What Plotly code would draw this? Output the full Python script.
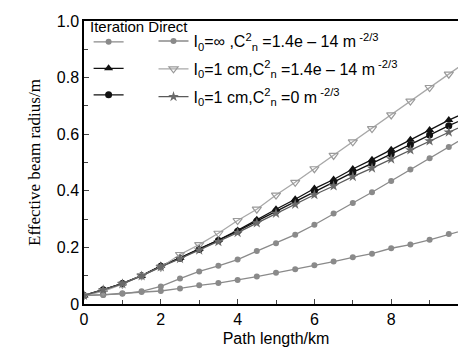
import plotly.graph_objects as go

# Path length (km)
path_km = [0, 0.5, 1, 1.5, 2, 2.5, 3, 3.5, 4, 4.5, 5, 5.5, 6, 6.5, 7, 7.5, 8, 8.5, 9, 9.5, 10]

# Effective beam radius (m)
iter_inf_cn14 = [0.03, 0.032, 0.036, 0.045, 0.062, 0.09, 0.115, 0.135, 0.157, 0.187, 0.215,
                 0.245, 0.28, 0.32, 0.357, 0.395, 0.435, 0.475, 0.515, 0.555, 0.595]
direct_inf_cn14 = [0.03, 0.032, 0.038, 0.042, 0.046, 0.055, 0.066, 0.074, 0.085, 0.097, 0.11,
                   0.123, 0.137, 0.15, 0.165, 0.178, 0.197, 0.21, 0.227, 0.247, 0.265]
iter_1cm_cn14 = [0.03, 0.05, 0.073, 0.1, 0.135, 0.163, 0.195, 0.226, 0.26, 0.298, 0.335,
                 0.37, 0.408, 0.44, 0.477, 0.51, 0.545, 0.58, 0.615, 0.65, 0.68]
direct_1cm_cn14 = [0.03, 0.045, 0.07, 0.1, 0.13, 0.175, 0.21, 0.25, 0.295, 0.335, 0.385,
                   0.43, 0.478, 0.525, 0.573, 0.62, 0.668, 0.717, 0.765, 0.812, 0.86]
iter_1cm_cn0 = [0.03, 0.05, 0.072, 0.1, 0.133, 0.162, 0.193, 0.224, 0.257, 0.293, 0.328,
                0.362, 0.398, 0.43, 0.465, 0.497, 0.53, 0.563, 0.597, 0.63, 0.66]
direct_1cm_cn0 = [0.03, 0.05, 0.071, 0.099, 0.131, 0.16, 0.19, 0.22, 0.252, 0.286, 0.32,
                  0.352, 0.386, 0.417, 0.45, 0.48, 0.512, 0.544, 0.576, 0.607, 0.637]

label_inf = "I<sub>0</sub>=∞ ,C<sup>2</sup><sub>n</sub> =1.4e – 14 m<sup> -2/3</sup>"
label_1cm14 = "I<sub>0</sub>=1 cm,C<sup>2</sup><sub>n</sub> =1.4e – 14 m<sup> -2/3</sup>"
label_1cm0 = "I<sub>0</sub>=1 cm,C<sup>2</sup><sub>n</sub> =0 m<sup> -2/3</sup>"

y_tickvals = [0, 0.2, 0.4, 0.6, 0.8, 1.0]
y_ticktext = ["0", "0.2", "0.4", "0.6", "0.8", "1.0"]
x_tickvals = [0, 2, 4, 6, 8, 10]

FONT = "Liberation Sans, Arial, sans-serif"

fig = go.Figure()

series = [
    # (y, label, legend, group, line color, marker)
    (iter_inf_cn14, "", "legend", "a1", "#8a8a8a",
     dict(symbol="circle", size=6, color="#8a8a8a")),
    (iter_1cm_cn14, "", "legend", "a2", "#111111",
     dict(symbol="triangle-up", size=8, color="#111111")),
    (iter_1cm_cn0, "", "legend", "a3", "#111111",
     dict(symbol="circle", size=7, color="#111111")),
    (direct_inf_cn14, label_inf, "legend2", "b1", "#8a8a8a",
     dict(symbol="circle", size=6, color="#8a8a8a")),
    (direct_1cm_cn14, label_1cm14, "legend2", "b2", "#a8a8a8",
     dict(symbol="triangle-down-open", size=8, color="#9a9a9a", line=dict(width=1.2))),
    (direct_1cm_cn0, label_1cm0, "legend2", "b3", "#5a5a5a",
     dict(symbol="star", size=8, color="#6a6a6a")),
]

for y, name, leg, grp, lc, mk in series:
    fig.add_trace(go.Scatter(
        x=path_km, y=y, name=name, mode="lines+markers",
        line=dict(color=lc, width=1.3), marker=mk,
        legend=leg, legendgroup=grp, showlegend=True,
    ))

fig.update_layout(
    width=466, height=350,
    margin=dict(l=76, r=6, t=13, b=54, autoexpand=False),
    paper_bgcolor="white", plot_bgcolor="white",
    font=dict(family=FONT, size=16, color="black"),
    legend=dict(x=0.012, y=0.984, xanchor="left", yanchor="top",
                bgcolor="rgba(0,0,0,0)", tracegroupgap=4,
                itemwidth=30,
                font=dict(size=15, family=FONT)),
    legend2=dict(x=0.181, y=0.989, xanchor="left", yanchor="top",
                 bgcolor="rgba(0,0,0,0)", tracegroupgap=4,
                 font=dict(size=16, color="black", family=FONT)),
    annotations=[dict(text="Iteration Direct", xref="paper", yref="paper",
                      x=0.01, y=0.98, xanchor="left", yanchor="middle",
                      showarrow=False, font=dict(size=15, family=FONT))],
)

fig.update_xaxes(
    range=[0, 10], tickvals=x_tickvals, ticks="inside", ticklen=5,
    minor=dict(dtick=1, ticks="inside", ticklen=4),
    showline=True, linecolor="black", linewidth=1.5, mirror=True,
    showgrid=False, zeroline=False, ticklabeloverflow="allow",
    title=dict(text="Path length/km", font=dict(size=16, family=FONT), standoff=6),
    tickfont=dict(size=16, family=FONT),
)
fig.update_yaxes(
    range=[0, 1.0], tickvals=y_tickvals, ticktext=y_ticktext,
    ticks="inside", ticklen=5,
    minor=dict(dtick=0.1, ticks="inside", ticklen=4),
    showline=True, linecolor="black", linewidth=1.5, mirror=True,
    showgrid=False, zeroline=False,
    title=dict(text="Effective beam radius/m",
               font=dict(size=17, family="Liberation Serif, Times New Roman, serif"),
               standoff=12),
    tickfont=dict(size=16, family=FONT),
)

fig.write_html("out.html")
